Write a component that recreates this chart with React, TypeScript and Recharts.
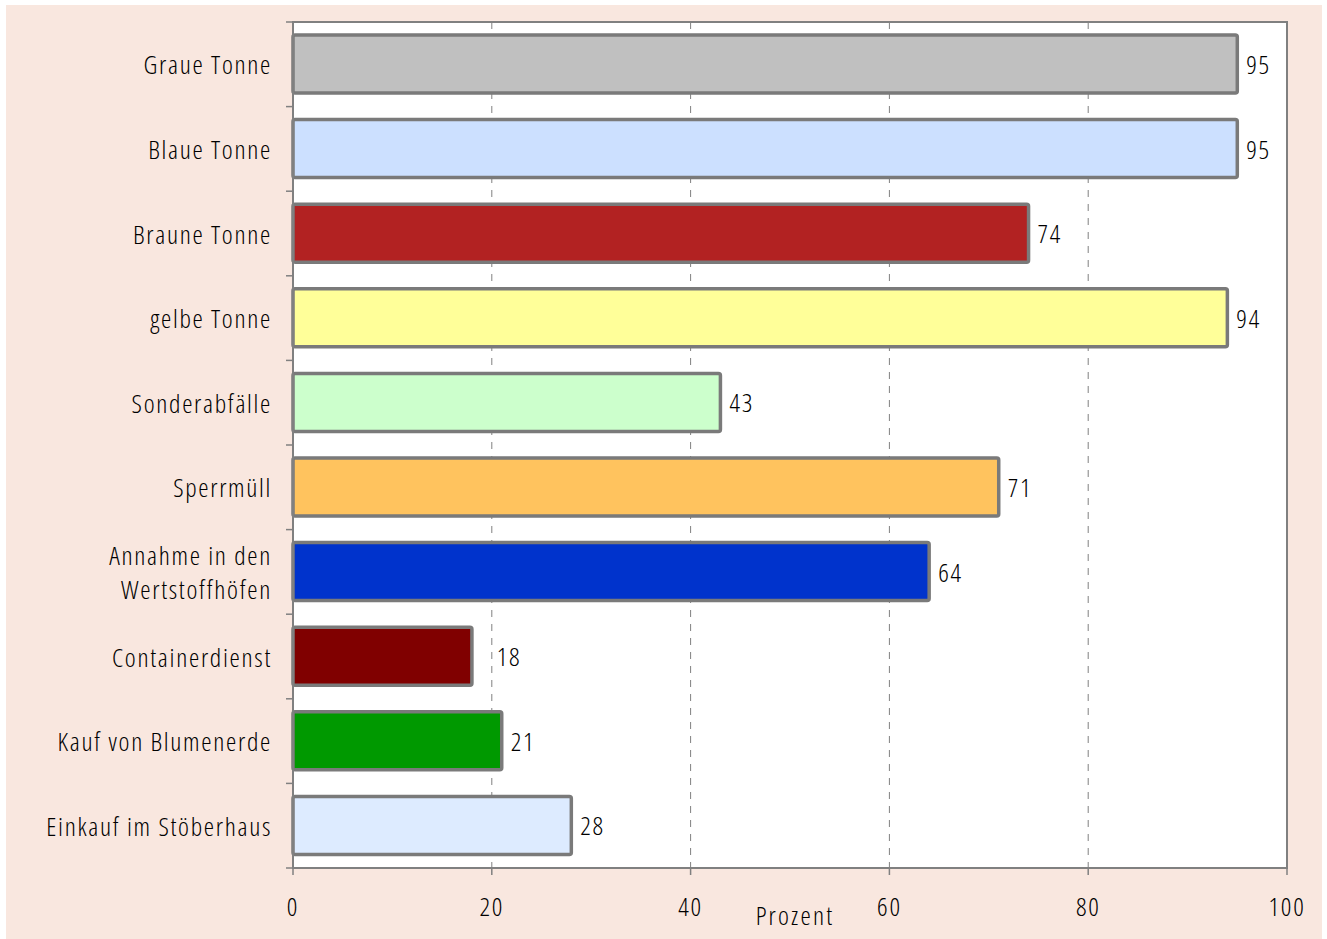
import React from "react";
import {
  Bar,
  BarChart,
  CartesianGrid,
  Cell,
  LabelList,
  ReferenceArea,
  XAxis,
  YAxis,
} from "recharts";

const categories = [
  "Graue Tonne",
  "Blaue Tonne",
  "Braune Tonne",
  "gelbe Tonne",
  "Sonderabfälle",
  "Sperrmüll",
  "Annahme in den\nWertstoffhöfen",
  "Containerdienst",
  "Kauf von Blumenerde",
  "Einkauf im Stöberhaus",
];

const values = [95, 95, 74, 94, 43, 71, 64, 18, 21, 28];

const barColors = [
  "#c0c0c0",
  "#cce0ff",
  "#b22222",
  "#ffff99",
  "#ccffcc",
  "#ffc35e",
  "#0033cc",
  "#800000",
  "#009900",
  "#ddebff",
];

const xTicks = [0, 20, 40, 60, 80, 100];

const data = categories.map((name, i) => ({ name, value: values[i] }));

const FONT = "'Open Sans', sans-serif";
const TEXT = "#000000";
const AXIS = "#808080";
const textStyle: React.CSSProperties = {
  fontFamily: FONT,
  fontStretch: "condensed",
  fontWeight: 300,
  fontSize: 26,
  letterSpacing: 1.7,
  fill: TEXT,
};

const WIDTH = 1316;
const HEIGHT = 934;
const MARGIN = { top: 17, right: 35, bottom: 0, left: 0 };
const Y_WIDTH = 287;
const X_HEIGHT = 71;
const PLOT_H = HEIGHT - MARGIN.top - MARGIN.bottom - X_HEIGHT;
const BAND = PLOT_H / categories.length;
const LABEL_GAP = 21;

function CategoryTick(props: any) {
  const { x, y, payload, index } = props;
  const lines: string[] = String(payload.value).split("\n");
  const axisX = x + LABEL_GAP;
  const lineH = 34;
  const startY = y - ((lines.length - 1) * lineH) / 2;
  return (
    <g>
      <line x1={axisX - 7} x2={axisX} y1={y - BAND / 2} y2={y - BAND / 2} stroke={AXIS} strokeWidth={1.5} />
      {index === categories.length - 1 && (
        <line x1={axisX - 7} x2={axisX} y1={y + BAND / 2} y2={y + BAND / 2} stroke={AXIS} strokeWidth={1.5} />
      )}
      {lines.map((l, i) => (
        <text
          key={i}
          x={x}
          y={startY + i * lineH}
          textAnchor="end"
          dominantBaseline="central"
          style={textStyle}
        >
          {l}
        </text>
      ))}
    </g>
  );
}

function NumberTick(props: any) {
  const { x, y, payload } = props;
  return (
    <text x={x} y={y} dy={17} textAnchor="middle" style={textStyle}>
      {payload.value}
    </text>
  );
}

// value label right of the bar; nudged past a gridline if it would sit on one
function ValueLabel(props: any) {
  const { x, y, width, height, value } = props;
  const perUnit = width / value;
  let start = x + width + 9;
  const textW = String(value).length * 12;
  for (const g of xTicks) {
    const gx = x + g * perUnit;
    if (g > 0 && g < 100 && gx > start - 2 && gx < start + textW) start = gx + 5;
  }
  return (
    <text x={start} y={y + height / 2} dominantBaseline="central" style={textStyle}>
      {value}
    </text>
  );
}

export default function App() {
  return (
    <div style={{ position: "absolute", left: 0, top: 0, width: 1327, height: 939, background: "#fff" }}>
      <div style={{ position: "absolute", left: 6, top: 5, width: WIDTH, height: HEIGHT, background: "#f9e7df" }}>
        <BarChart
          width={WIDTH}
          height={HEIGHT}
          data={data}
          layout="vertical"
          margin={MARGIN}
          barSize={58}
        >
          <CartesianGrid
            horizontal={false}
            vertical
            fill="#ffffff"
            stroke={AXIS}
            strokeDasharray="7 7"
          />
          <XAxis
            type="number"
            domain={[0, 100]}
            ticks={xTicks}
            height={X_HEIGHT}
            axisLine={{ stroke: AXIS, strokeWidth: 2 }}
            tickLine={{ stroke: AXIS, strokeWidth: 1.5 }}
            tickSize={7}
            tickMargin={24}
            tick={<NumberTick />}
            label={{
              value: "Prozent",
              position: "insideBottom",
              offset: 14,
              dx: 5,
              style: { ...textStyle, letterSpacing: 2.2 },
            }}
          />
          <YAxis
            type="category"
            dataKey="name"
            width={Y_WIDTH}
            axisLine={{ stroke: AXIS, strokeWidth: 2 }}
            tickLine={false}
            tickSize={0}
            tickMargin={LABEL_GAP}
            interval={0}
            tick={<CategoryTick />}
          />
          <ReferenceArea x1={0} x2={100} fill="none" stroke={AXIS} strokeWidth={2} ifOverflow="visible" />
          <Bar
            dataKey="value"
            stroke="#7a7a7a"
            strokeWidth={3.5}
            radius={2}
            isAnimationActive={false}
          >
            {data.map((d, i) => (
              <Cell key={d.name} fill={barColors[i]} />
            ))}
            <LabelList dataKey="value" content={<ValueLabel />} />
          </Bar>
        </BarChart>
      </div>
    </div>
  );
}
